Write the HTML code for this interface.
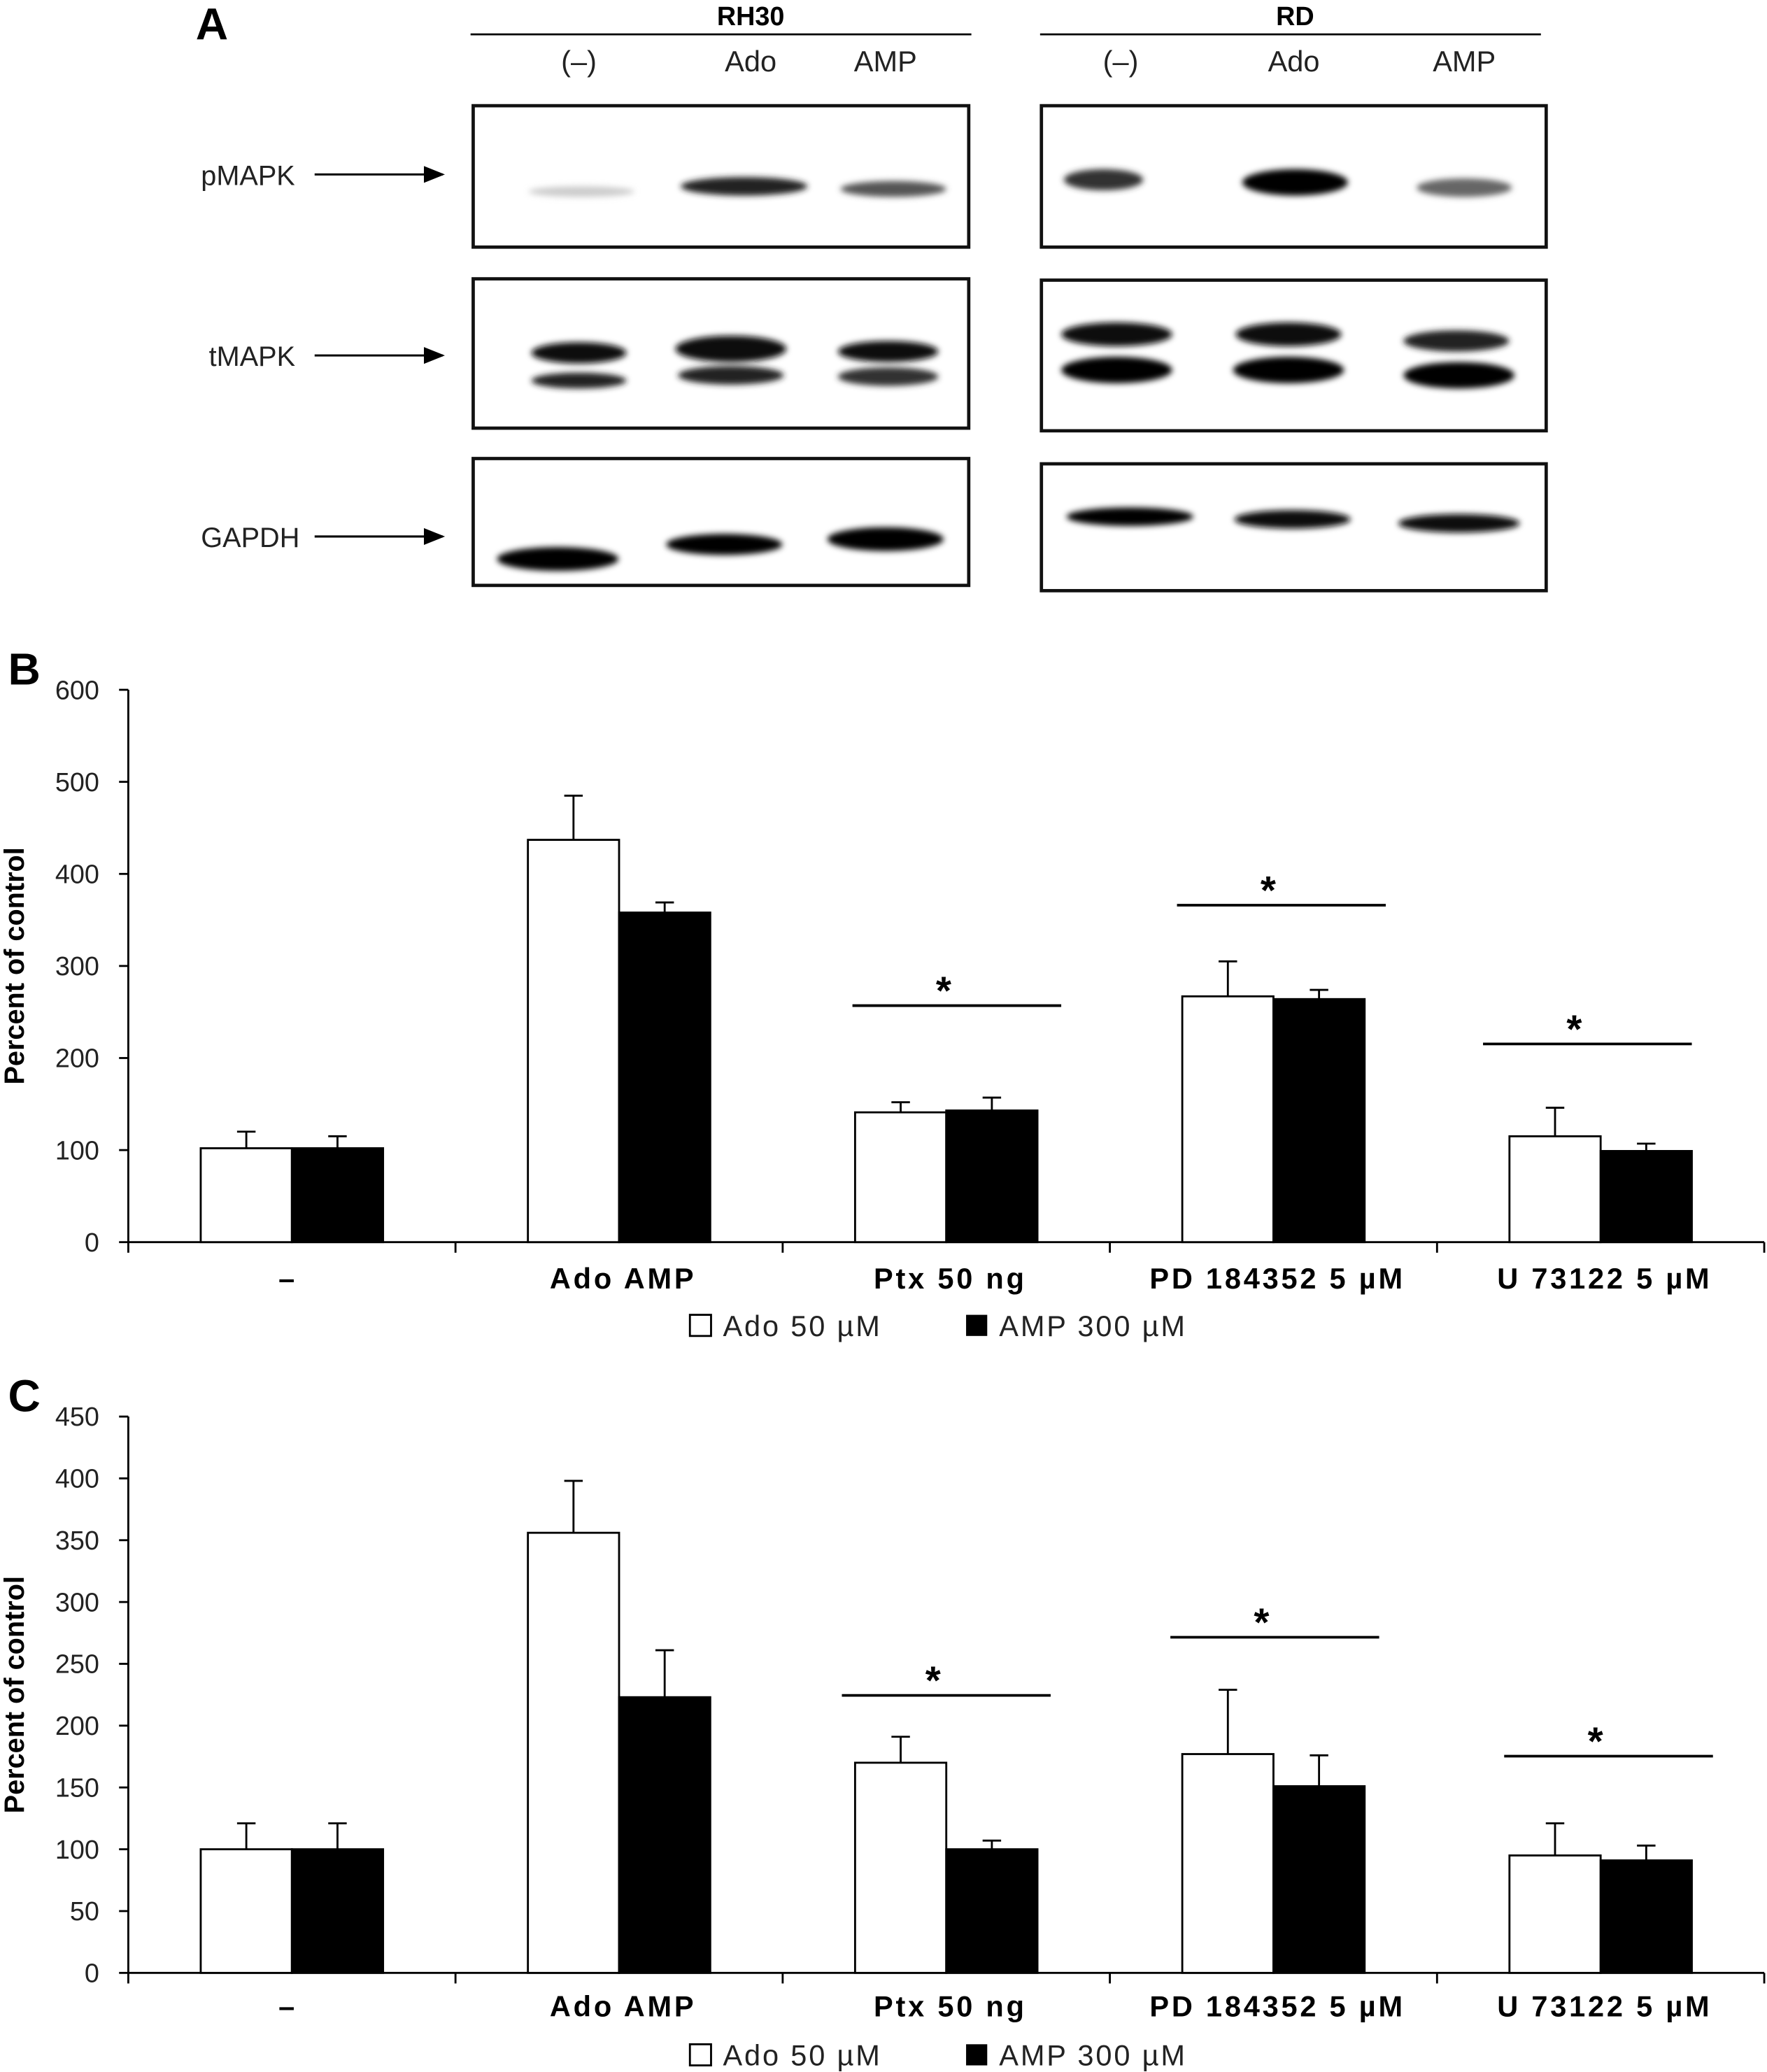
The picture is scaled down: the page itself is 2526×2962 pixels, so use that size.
<!DOCTYPE html>
<html><head><meta charset="utf-8">
<style>html,body{margin:0;padding:0;background:#fff}svg{display:block}text{font-family:"Liberation Sans",sans-serif}</style>
</head><body>
<svg id="fig" width="2526" height="2962" viewBox="0 0 1337 1568" xmlns="http://www.w3.org/2000/svg">
<defs>
<filter id="bl" x="-20%" y="-100%" width="140%" height="300%"><feGaussianBlur stdDeviation="2.2"/></filter>
<marker id="ah" markerWidth="10" markerHeight="8" refX="9" refY="4" orient="auto"><path d="M0,0 L10,4 L0,8 Z" fill="#000"/></marker>
</defs>
<g id="panelA">
<text x="148" y="30" font-size="34" font-weight="bold">A</text>
<text x="568" y="19" font-size="20" font-weight="bold" text-anchor="middle">RH30</text>
<line x1="356" y1="26" x2="735" y2="26" stroke="#000" stroke-width="1.5"/>
<text x="980" y="19" font-size="20" font-weight="bold" text-anchor="middle">RD</text>
<line x1="787" y1="26" x2="1166" y2="26" stroke="#000" stroke-width="1.5"/>
<g font-size="22" text-anchor="middle" fill="#222">
<text x="438" y="54">(–)</text><text x="568" y="54">Ado</text><text x="670" y="54">AMP</text>
<text x="848" y="54">(–)</text><text x="979" y="54">Ado</text><text x="1108" y="54">AMP</text>
</g>
<g font-size="21" fill="#222">
<text x="152" y="140">pMAPK</text>
<text x="158" y="277">tMAPK</text>
<text x="152" y="414">GAPDH</text>
</g>
<g stroke="#000" stroke-width="1.6" marker-end="url(#ah)">
<line x1="238" y1="132" x2="335" y2="132"/><line x1="238" y1="269" x2="335" y2="269"/><line x1="238" y1="406" x2="335" y2="406"/>
</g>
<g fill="#fff" stroke="#111" stroke-width="2.5">
<rect x="358" y="80" width="375" height="107"/>
<rect x="358" y="211" width="375" height="113"/>
<rect x="358" y="347" width="375" height="96"/>
<rect x="788" y="80" width="382" height="107"/>
<rect x="788" y="212" width="382" height="114"/>
<rect x="788" y="351" width="382" height="96"/>
</g>
<g filter="url(#bl)">
<ellipse cx="440" cy="145" rx="40" ry="4" fill="#ccc"/>
<ellipse cx="563" cy="141" rx="48" ry="7" fill="#222"/>
<ellipse cx="676" cy="143" rx="40" ry="6" fill="#555"/>
<ellipse cx="438" cy="267" rx="36" ry="8" fill="#111"/><ellipse cx="438" cy="288" rx="36" ry="6" fill="#222"/>
<ellipse cx="553" cy="264" rx="42" ry="10" fill="#0a0a0a"/><ellipse cx="553" cy="284" rx="40" ry="7" fill="#222"/>
<ellipse cx="672" cy="266" rx="38" ry="8" fill="#111"/><ellipse cx="672" cy="285" rx="38" ry="7" fill="#333"/>
<ellipse cx="422" cy="423" rx="46" ry="9" fill="#000"/>
<ellipse cx="548" cy="412" rx="44" ry="8" fill="#000"/>
<ellipse cx="670" cy="408" rx="44" ry="9" fill="#000"/>
<ellipse cx="835" cy="136" rx="30" ry="8" fill="#333"/>
<ellipse cx="980" cy="138" rx="40" ry="10" fill="#000"/>
<ellipse cx="1108" cy="142" rx="36" ry="7" fill="#666"/>
<ellipse cx="845" cy="253" rx="42" ry="9" fill="#111"/><ellipse cx="845" cy="280" rx="42" ry="10" fill="#000"/>
<ellipse cx="975" cy="253" rx="40" ry="9" fill="#111"/><ellipse cx="975" cy="280" rx="42" ry="10" fill="#000"/>
<ellipse cx="1102" cy="258" rx="40" ry="8" fill="#222"/><ellipse cx="1104" cy="284" rx="42" ry="10" fill="#000"/>
<ellipse cx="855" cy="391" rx="48" ry="7" fill="#000"/>
<ellipse cx="978" cy="393" rx="44" ry="7" fill="#111"/>
<ellipse cx="1104" cy="396" rx="46" ry="7" fill="#111"/>
</g>
</g>
<g id="chartB"></g>
<g id="chartC"></g>
</svg>
<script>
const categories = ["–", "Ado AMP", "Ptx 50 ng", "PD 184352 5 µM", "U 73122 5 µM"];
const bAdo = [102, 437, 141, 267, 115];
const bAmp = [102, 358, 143, 264, 99];
const bAdoErr = [18, 48, 11, 38, 31];
const bAmpErr = [13, 11, 14, 10, 8];
const bTicks = [0, 100, 200, 300, 400, 500, 600];
const cAdo = [100, 356, 170, 177, 95];
const cAmp = [100, 223, 100, 151, 91];
const cAdoErr = [21, 42, 21, 52, 26];
const cAmpErr = [21, 38, 7, 25, 12];
const cTicks = [0, 50, 100, 150, 200, 250, 300, 350, 400, 450];
const sigGroups = [2, 3, 4];
const NS = "http://www.w3.org/2000/svg";
function mk(parent, tag, attrs, txt) {
  const e = document.createElementNS(NS, tag);
  for (const k in attrs) e.setAttribute(k, attrs[k]);
  if (txt !== undefined) e.textContent = txt;
  parent.appendChild(e); return e;
}
function drawChart(gid, o) {
  const g = document.getElementById(gid);
  
  
  const x0 = 97, x1 = 1335, yTop = o.top, yBot = o.bot, maxV = o.ticks[o.ticks.length - 1];
  const y = v => yBot - (v / maxV) * (yBot - yTop);
  const gw = (x1 - x0) / categories.length;
  const lbl = mk(g, 'text', {x: 6, y: o.top - 4, 'font-size': 34, 'font-weight': 'bold'}, o.letter);
  
  
  mk(g, 'line', {x1: x0, y1: yTop, x2: x0, y2: yBot, stroke: '#000', 'stroke-width': 1.5});
  mk(g, 'line', {x1: x0, y1: yBot, x2: x1, y2: yBot, stroke: '#000', 'stroke-width': 1.5});
  o.ticks.forEach(t => {
    mk(g, 'line', {x1: x0 - 7, y1: y(t), x2: x0, y2: y(t), stroke: '#000', 'stroke-width': 1.5});
    const tt = mk(g, 'text', {x: x0 - 22, y: y(t) + 7, 'font-size': 20, 'text-anchor': 'end', fill: '#222'}, t);
    
    
  });
  const yt = mk(g, 'text', {x: 0, y: 0, 'font-size': 21, 'font-weight': 'bold', 'text-anchor': 'middle', transform: `translate(18,${(yTop + yBot) / 2}) rotate(-90)`}, 'Percent of control');
  
  
  for (let i = 0; i <= categories.length; i++) mk(g, 'line', {x1: x0 + i * gw, y1: yBot, x2: x0 + i * gw, y2: yBot + 8, stroke: '#000', 'stroke-width': 1.5});
  categories.forEach((c, i) => {
    const cx = x0 + gw * (i + 0.5), bw = 69;
    [[o.ado, o.adoErr, '#fff', cx - bw, 'ado'], [o.amp, o.ampErr, '#000', cx, 'amp']].forEach(([vals, errs, fill, bx, s]) => {
      const v = vals[i], top = y(v), et = y(v + errs[i]);
      mk(g, 'line', {x1: bx + bw / 2, y1: top, x2: bx + bw / 2, y2: et, stroke: '#000', 'stroke-width': 1.5});
      mk(g, 'line', {x1: bx + bw / 2 - 7, y1: et, x2: bx + bw / 2 + 7, y2: et, stroke: '#000', 'stroke-width': 1.5});
      const r = mk(g, 'rect', {x: bx, y: top, width: bw, height: yBot - top, fill: fill, stroke: '#000', 'stroke-width': 1.5});
      
      
    });
    const xl = mk(g, 'text', {x: cx + (i === 0 ? -3 : 3), y: o.catY, 'font-size': 22, 'letter-spacing': 2, 'font-weight': 'bold', 'text-anchor': 'middle'}, c);
    
    
  });
  sigGroups.forEach((gi, k) => {
    const cx = x0 + gw * (gi + 0.5) + o.sigShift[k];
    const ly = o.sigY[k];
    mk(g, 'line', {x1: cx - 79, y1: ly, x2: cx + 79, y2: ly, stroke: '#000', 'stroke-width': 2});
    const st = mk(g, 'text', {x: cx - 10, y: ly - 1, 'font-size': 30, 'font-weight': 'bold', 'text-anchor': 'middle'}, '*');
    
    
  });
  const ly = o.legY;
  const l1 = mk(g, 'rect', {x: 522, y: ly - 16, width: 16, height: 16, fill: '#fff', stroke: '#000', 'stroke-width': 1.5});
  
  
  const t1 = mk(g, 'text', {x: 547, y: ly, 'font-size': 22, 'letter-spacing': 1.5, fill: '#222'}, 'Ado 50 µM');
  
  
  const l2 = mk(g, 'rect', {x: 731, y: ly - 16, width: 16, height: 16, fill: '#000'});
  
  
  const t2 = mk(g, 'text', {x: 756, y: ly, 'font-size': 22, 'letter-spacing': 1.5, fill: '#222'}, 'AMP 300 µM');
  
  
}
drawChart('chartB', {name: 'chart-b', letter: 'B', top: 522, bot: 940, ticks: bTicks, ado: bAdo, amp: bAmp, adoErr: bAdoErr, ampErr: bAmpErr, catY: 975, legY: 1011, sigY: [761, 685, 790], sigShift: [8, 6, -10]});
drawChart('chartC', {name: 'chart-c', letter: 'C', top: 1072, bot: 1493, ticks: cTicks, ado: cAdo, amp: cAmp, adoErr: cAdoErr, ampErr: cAmpErr, catY: 1526, legY: 1563, sigY: [1283, 1239, 1329], sigShift: [0, 1, 6]});
</script>
</body></html>
